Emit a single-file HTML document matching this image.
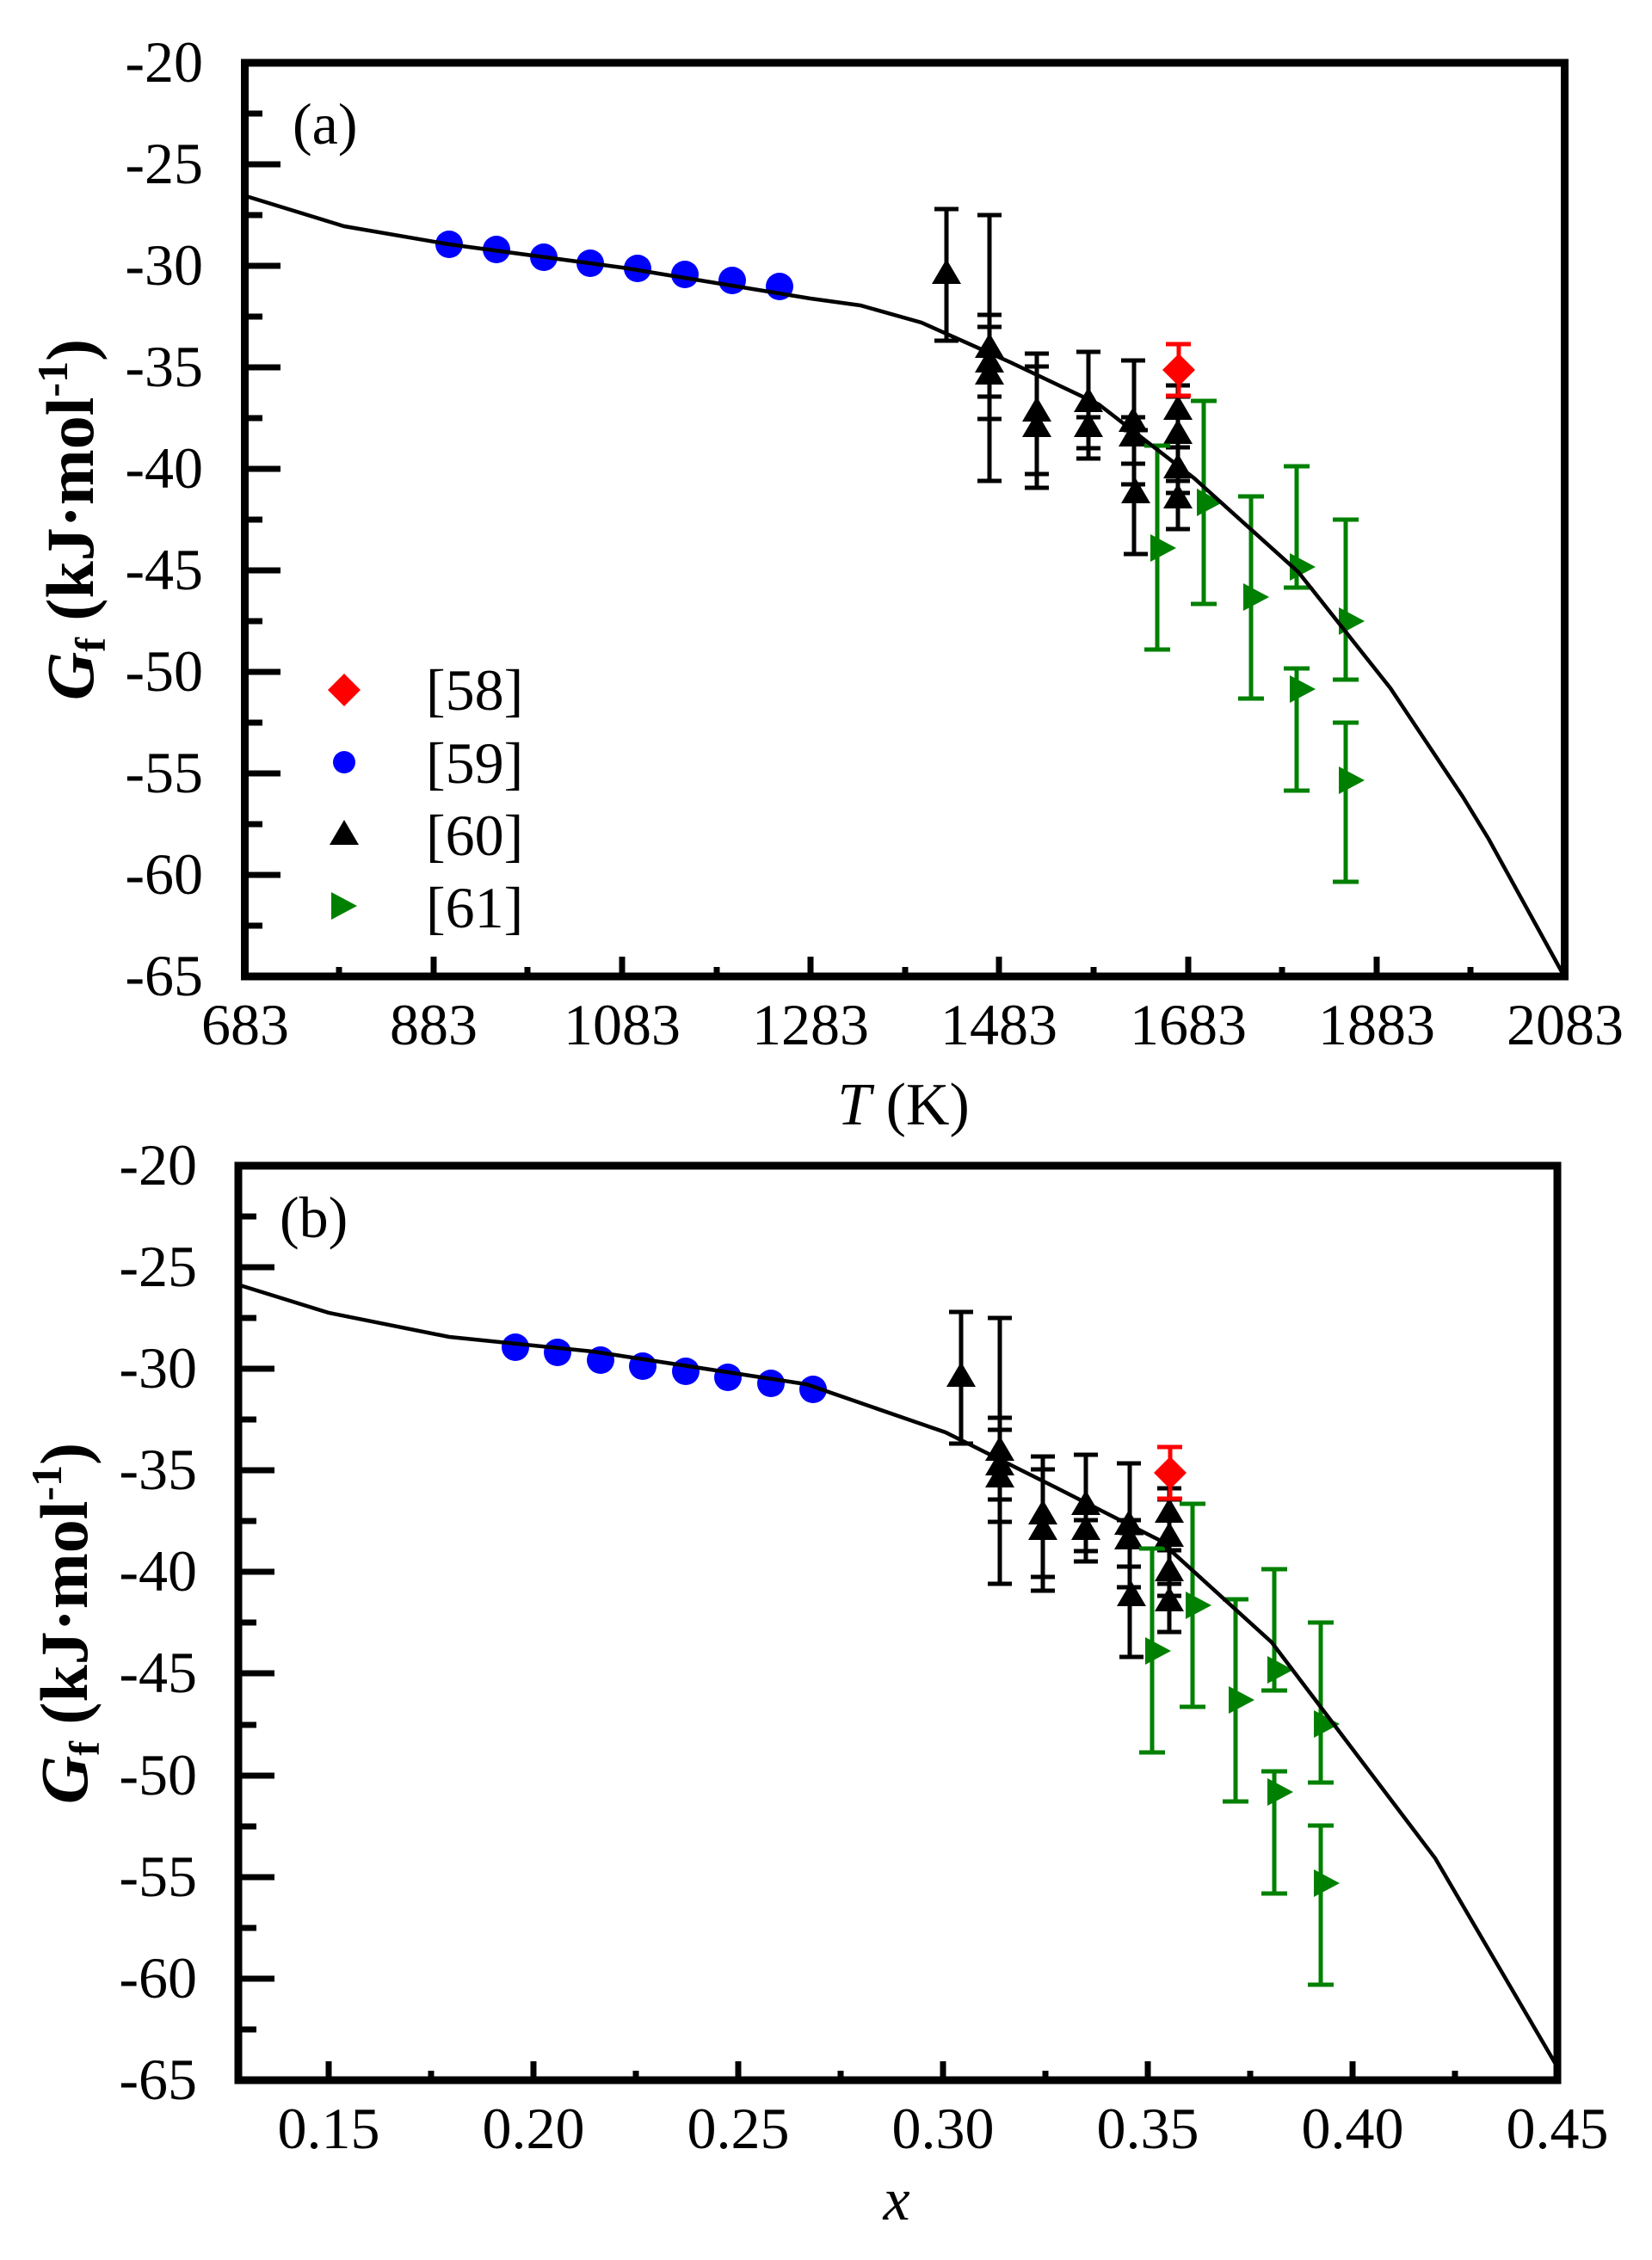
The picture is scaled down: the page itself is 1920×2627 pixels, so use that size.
<!DOCTYPE html>
<html><head><meta charset="utf-8"><style>
html,body{margin:0;padding:0;background:#fff;}
svg{display:block;}
svg text{font-family:"Liberation Serif","Times New Roman",serif;fill:#000;}
</style></head><body>
<svg width="1920" height="2627" viewBox="0 0 1920 2627" xmlns="http://www.w3.org/2000/svg" font-family="Liberation Serif, serif">
<defs>
<polygon id="tu" points="0,-17 -17,12 17,12" fill="#000"/>
<polygon id="tr" points="-13,-16 17,0 -13,16" fill="#008000"/>
<polygon id="dm" points="0,-19 19,0 0,19 -19,0" fill="#ff0000"/>
</defs>

<!-- ============ PANEL A ============ -->
<g>
<g stroke="#000" stroke-width="7">
<line x1="284" y1="191" x2="326" y2="191"/><line x1="284" y1="309" x2="326" y2="309"/>
<line x1="284" y1="427" x2="326" y2="427"/><line x1="284" y1="545" x2="326" y2="545"/>
<line x1="284" y1="663" x2="326" y2="663"/><line x1="284" y1="781" x2="326" y2="781"/>
<line x1="284" y1="899" x2="326" y2="899"/><line x1="284" y1="1017" x2="326" y2="1017"/>
<line x1="284" y1="132" x2="305" y2="132"/><line x1="284" y1="250" x2="305" y2="250"/>
<line x1="284" y1="368" x2="305" y2="368"/><line x1="284" y1="486" x2="305" y2="486"/>
<line x1="284" y1="604" x2="305" y2="604"/><line x1="284" y1="722" x2="305" y2="722"/>
<line x1="284" y1="840" x2="305" y2="840"/><line x1="284" y1="958" x2="305" y2="958"/>
<line x1="284" y1="1076" x2="305" y2="1076"/>
<line x1="504" y1="1135" x2="504" y2="1112"/><line x1="723" y1="1135" x2="723" y2="1112"/>
<line x1="942" y1="1135" x2="942" y2="1112"/><line x1="1161" y1="1135" x2="1161" y2="1112"/>
<line x1="1381" y1="1135" x2="1381" y2="1112"/><line x1="1600" y1="1135" x2="1600" y2="1112"/>
<line x1="394" y1="1135" x2="394" y2="1124"/><line x1="613" y1="1135" x2="613" y2="1124"/>
<line x1="833" y1="1135" x2="833" y2="1124"/><line x1="1052" y1="1135" x2="1052" y2="1124"/>
<line x1="1271" y1="1135" x2="1271" y2="1124"/><line x1="1490" y1="1135" x2="1490" y2="1124"/>
<line x1="1709" y1="1135" x2="1709" y2="1124"/>
</g>
<rect x="284.5" y="73" width="1534" height="1062" fill="none" stroke="#000" stroke-width="9"/>
<g font-size="68" text-anchor="end">
<text x="236" y="95">-20</text><text x="236" y="213">-25</text><text x="236" y="331">-30</text>
<text x="236" y="449">-35</text><text x="236" y="567">-40</text><text x="236" y="685">-45</text>
<text x="236" y="803">-50</text><text x="236" y="921">-55</text><text x="236" y="1039">-60</text>
<text x="236" y="1157">-65</text>
</g>
<g font-size="68" text-anchor="middle">
<text x="285" y="1214">683</text><text x="504" y="1214">883</text><text x="723" y="1214">1083</text>
<text x="942" y="1214">1283</text><text x="1161" y="1214">1483</text><text x="1381" y="1214">1683</text>
<text x="1600" y="1214">1883</text><text x="1819" y="1214">2083</text>
</g>
<text x="1050" y="1307" font-size="70" text-anchor="middle"><tspan font-style="italic">T</tspan> (K)</text>
<text transform="translate(108,604) rotate(-90)" font-size="78" font-weight="bold" text-anchor="middle"><tspan font-style="italic">G</tspan><tspan font-size="50" dy="14">f</tspan><tspan dy="-14"> (kJ·mol</tspan><tspan font-size="50" dy="-30">-1</tspan><tspan dy="30">)</tspan></text>
<text x="340" y="167" font-size="68">(a)</text>

<use href="#dm" x="400" y="802"/>
<circle cx="400" cy="886" r="13" fill="#0000ff"/>
<use href="#tu" x="400" y="970"/>
<use href="#tr" x="398" y="1053"/>
<g font-size="68"><text x="495" y="825">[58]</text><text x="495" y="910">[59]</text><text x="495" y="994">[60]</text><text x="495" y="1078">[61]</text></g>

<g fill="#0000ff">
<circle cx="522" cy="284" r="16"/><circle cx="577" cy="290" r="16"/><circle cx="632" cy="299" r="16"/>
<circle cx="686" cy="306" r="16"/><circle cx="741" cy="312" r="16"/><circle cx="796" cy="319" r="16"/>
<circle cx="851" cy="326" r="16"/><circle cx="906" cy="333" r="16"/>
</g>

<g stroke="#000" stroke-width="5">
<path d="M1100 243V396M1086 243H1114M1086 396H1114"/>
<path d="M1150 250V559M1136 250H1164M1136 559H1164M1136 366H1164M1136 487H1164M1136 380H1164M1136 461H1164"/>
<path d="M1205 411V567M1191 411H1219M1191 551H1219M1191 426H1219M1191 567H1219"/>
<path d="M1265 409V533M1251 409H1279M1251 533H1279M1251 485H1279M1251 521H1279"/>
<path d="M1318 419V644M1303 419H1331M1303 563H1331M1303 485H1331M1303 539H1331M1306 500H1334M1306 644H1334"/>
<path d="M1369 448V615M1355 448H1383M1355 559H1383M1355 461H1383M1355 573H1383M1355 520H1383M1355 615H1383"/>
</g>
<g>
<use href="#tu" x="1100" y="318"/>
<use href="#tu" x="1150" y="404"/><use href="#tu" x="1150" y="421"/><use href="#tu" x="1150" y="435"/>
<use href="#tu" x="1205" y="478"/><use href="#tu" x="1205" y="496"/>
<use href="#tu" x="1265" y="467"/><use href="#tu" x="1265" y="496"/>
<use href="#tu" x="1317" y="490"/><use href="#tu" x="1317" y="507"/><use href="#tu" x="1320" y="573"/>
<use href="#tu" x="1369" y="476"/><use href="#tu" x="1369" y="504"/><use href="#tu" x="1369" y="544"/><use href="#tu" x="1369" y="579"/>
</g>
<path d="M1370 400V460M1355 400H1384M1355 460H1384" stroke="#ff0000" stroke-width="5"/>
<use href="#dm" x="1370" y="430"/>
<g stroke="#008000" stroke-width="5">
<path d="M1345 518V755M1330 518H1360M1330 755H1360"/>
<path d="M1399 466V702M1384 466H1414M1384 702H1414"/>
<path d="M1454 577V812M1439 577H1469M1439 812H1469"/>
<path d="M1507 542V683M1492 542H1522M1492 683H1522M1507 777V919M1492 777H1522M1492 919H1522"/>
<path d="M1564 604V790M1549 604H1579M1549 790H1579M1564 840V1025M1549 840H1579M1549 1025H1579"/>
</g>
<use href="#tr" x="1350" y="637"/><use href="#tr" x="1404" y="584"/><use href="#tr" x="1458" y="694"/>
<use href="#tr" x="1512" y="659"/><use href="#tr" x="1512" y="801"/><use href="#tr" x="1569" y="722"/><use href="#tr" x="1569" y="907"/>
<polyline fill="none" stroke="#000" stroke-width="4.5" points="286,228 400,263 522,284 723,311 942,347 1000,355 1071,375 1174,421 1277,470 1388,556 1509,665 1616,800 1700,926 1730,975 1817,1133"/>
</g>

<!-- ============ PANEL B ============ -->
<g>
<g stroke="#000" stroke-width="7">
<line x1="277" y1="1473" x2="319" y2="1473"/><line x1="277" y1="1591" x2="319" y2="1591"/>
<line x1="277" y1="1709" x2="319" y2="1709"/><line x1="277" y1="1827" x2="319" y2="1827"/>
<line x1="277" y1="1945" x2="319" y2="1945"/><line x1="277" y1="2064" x2="319" y2="2064"/>
<line x1="277" y1="2182" x2="319" y2="2182"/><line x1="277" y1="2300" x2="319" y2="2300"/>
<line x1="277" y1="1414" x2="298" y2="1414"/><line x1="277" y1="1532" x2="298" y2="1532"/>
<line x1="277" y1="1650" x2="298" y2="1650"/><line x1="277" y1="1768" x2="298" y2="1768"/>
<line x1="277" y1="1886" x2="298" y2="1886"/><line x1="277" y1="2005" x2="298" y2="2005"/>
<line x1="277" y1="2123" x2="298" y2="2123"/><line x1="277" y1="2241" x2="298" y2="2241"/>
<line x1="277" y1="2359" x2="298" y2="2359"/>
<line x1="382" y1="2418" x2="382" y2="2396"/><line x1="620" y1="2418" x2="620" y2="2396"/>
<line x1="858" y1="2418" x2="858" y2="2396"/><line x1="1096" y1="2418" x2="1096" y2="2396"/>
<line x1="1334" y1="2418" x2="1334" y2="2396"/><line x1="1572" y1="2418" x2="1572" y2="2396"/>
<line x1="501" y1="2418" x2="501" y2="2407"/><line x1="739" y1="2418" x2="739" y2="2407"/>
<line x1="977" y1="2418" x2="977" y2="2407"/><line x1="1215" y1="2418" x2="1215" y2="2407"/>
<line x1="1453" y1="2418" x2="1453" y2="2407"/><line x1="1691" y1="2418" x2="1691" y2="2407"/>
</g>
<rect x="277" y="1355" width="1533" height="1063" fill="none" stroke="#000" stroke-width="9"/>
<g font-size="68" text-anchor="end">
<text x="229" y="1377">-20</text><text x="229" y="1495">-25</text><text x="229" y="1613">-30</text>
<text x="229" y="1731">-35</text><text x="229" y="1849">-40</text><text x="229" y="1967">-45</text>
<text x="229" y="2086">-50</text><text x="229" y="2204">-55</text><text x="229" y="2322">-60</text>
<text x="229" y="2440">-65</text>
</g>
<g font-size="68" text-anchor="middle">
<text x="382" y="2497">0.15</text><text x="620" y="2497">0.20</text><text x="858" y="2497">0.25</text>
<text x="1096" y="2497">0.30</text><text x="1334" y="2497">0.35</text><text x="1572" y="2497">0.40</text>
<text x="1810" y="2497">0.45</text>
</g>
<text x="1042" y="2580" font-size="70" font-style="italic" text-anchor="middle">x</text>
<text transform="translate(101,1887) rotate(-90)" font-size="78" font-weight="bold" text-anchor="middle"><tspan font-style="italic">G</tspan><tspan font-size="50" dy="14">f</tspan><tspan dy="-14"> (kJ·mol</tspan><tspan font-size="50" dy="-30">-1</tspan><tspan dy="30">)</tspan></text>
<text x="325" y="1438" font-size="68">(b)</text>

<g transform="translate(0,1282)">
<g fill="#0000ff">
<circle cx="599" cy="284" r="16"/><circle cx="648" cy="290" r="16"/><circle cx="698" cy="299" r="16"/>
<circle cx="747" cy="306" r="16"/><circle cx="797" cy="312" r="16"/><circle cx="846" cy="319" r="16"/>
<circle cx="896" cy="326" r="16"/><circle cx="945" cy="333" r="16"/>
</g>
<g stroke="#000" stroke-width="5">
<path d="M1117 243V396M1103 243H1131M1103 396H1131"/>
<path d="M1162 250V559M1148 250H1176M1148 559H1176M1148 366H1176M1148 487H1176M1148 380H1176M1148 461H1176"/>
<path d="M1212 411V567M1198 411H1226M1198 551H1226M1198 426H1226M1198 567H1226"/>
<path d="M1262 409V533M1248 409H1276M1248 533H1276M1248 485H1276M1248 521H1276"/>
<path d="M1313 419V644M1298 419H1326M1298 563H1326M1298 485H1326M1298 539H1326M1301 500H1329M1301 644H1329"/>
<path d="M1359 448V615M1345 448H1373M1345 559H1373M1345 461H1373M1345 573H1373M1345 520H1373M1345 615H1373"/>
</g>
<use href="#tu" x="1117" y="318"/>
<use href="#tu" x="1162" y="404"/><use href="#tu" x="1162" y="421"/><use href="#tu" x="1162" y="435"/>
<use href="#tu" x="1212" y="478"/><use href="#tu" x="1212" y="496"/>
<use href="#tu" x="1262" y="467"/><use href="#tu" x="1262" y="496"/>
<use href="#tu" x="1312" y="490"/><use href="#tu" x="1312" y="507"/><use href="#tu" x="1315" y="573"/>
<use href="#tu" x="1359" y="476"/><use href="#tu" x="1359" y="504"/><use href="#tu" x="1359" y="544"/><use href="#tu" x="1359" y="579"/>
<path d="M1360 400V460M1345 400H1374M1345 460H1374" stroke="#ff0000" stroke-width="5"/>
<use href="#dm" x="1360" y="430"/>
<g stroke="#008000" stroke-width="5">
<path d="M1339 518V755M1324 518H1354M1324 755H1354"/>
<path d="M1386 466V702M1371 466H1401M1371 702H1401"/>
<path d="M1436 577V812M1421 577H1451M1421 812H1451"/>
<path d="M1481 542V683M1466 542H1496M1466 683H1496M1481 777V919M1466 777H1496M1466 919H1496"/>
<path d="M1535 604V790M1520 604H1550M1520 790H1550M1535 840V1025M1520 840H1550M1520 1025H1550"/>
</g>
<use href="#tr" x="1344" y="637"/><use href="#tr" x="1391" y="584"/><use href="#tr" x="1441" y="694"/>
<use href="#tr" x="1486" y="659"/><use href="#tr" x="1486" y="801"/><use href="#tr" x="1540" y="722"/><use href="#tr" x="1540" y="907"/>
</g>
<polyline fill="none" stroke="#000" stroke-width="4.5" points="279,1494 382,1526 522,1554 689,1571 937,1609 1099,1665 1229,1730 1347,1790 1478,1909 1668,2160 1809,2401"/>
</g>
</svg>
</body></html>
